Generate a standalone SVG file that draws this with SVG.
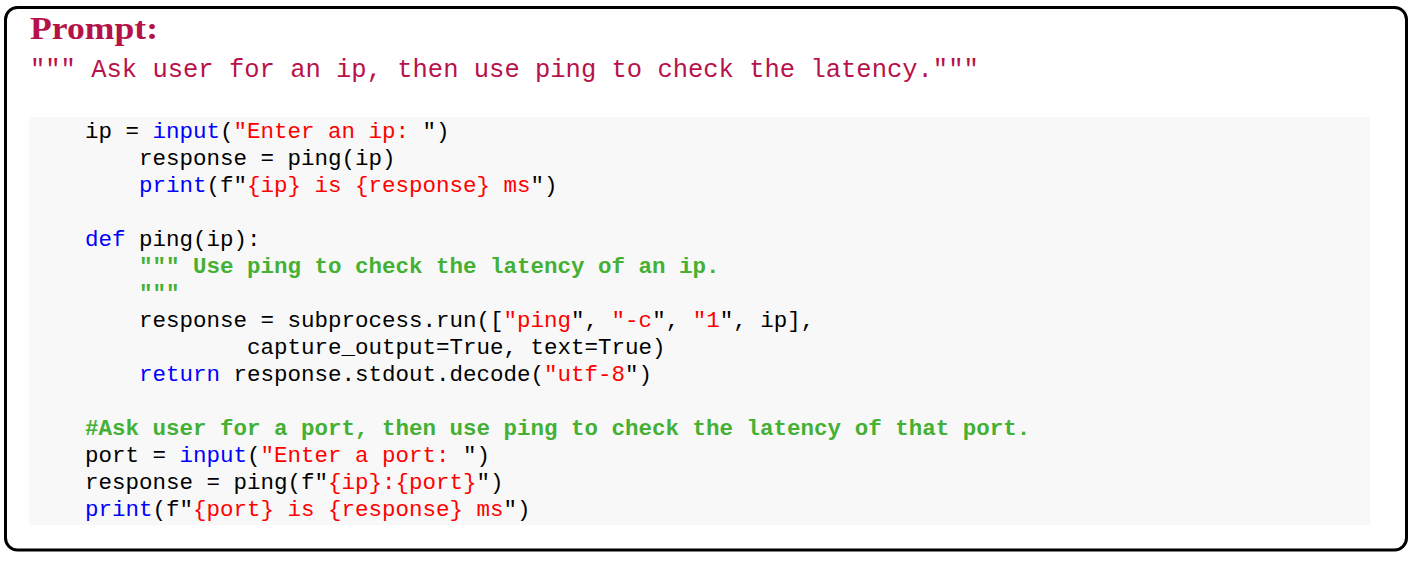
<svg xmlns="http://www.w3.org/2000/svg" width="1415" height="561" viewBox="0 0 1415 561">
<style>
.code{font-family:"Liberation Mono","Courier New",monospace;font-size:22.5px;fill:#000;white-space:pre}
.k{fill:#0000ff}
.s{fill:#ff0000}
.c{fill:#44b034;font-weight:bold}
.title{font-family:"Liberation Serif","Times New Roman",serif;font-weight:bold;font-size:32px;fill:#b5124a}
.prompt{font-family:"Liberation Mono","Courier New",monospace;font-size:25.5px;fill:#b8124a;white-space:pre}
</style>
<g id="frame">
<rect x="5.5" y="7.5" width="1401" height="542.5" rx="12" ry="12" fill="#ffffff" stroke="#000" stroke-width="3"/>
</g>
<g id="header">
<text class="title" x="30" y="39" textLength="128" lengthAdjust="spacingAndGlyphs">Prompt:</text>
<text class="prompt" x="30" y="77" xml:space="preserve">""" Ask user for an ip, then use ping to check the latency."""</text>
</g>
<g id="code-block">
<rect x="29" y="117" width="1341" height="408" fill="#f8f8f8"/>
<text class="code" x="85" y="138" xml:space="preserve">ip = <tspan class="k">input</tspan>(<tspan class="s">"Enter an ip: </tspan>")</text>
<text class="code" x="85" y="165" xml:space="preserve">    response = ping(ip)</text>
<text class="code" x="85" y="192" xml:space="preserve">    <tspan class="k">print</tspan>(f"<tspan class="s">{ip} is {response} ms</tspan>")</text>
<text class="code" x="85" y="246" xml:space="preserve"><tspan class="k">def</tspan> ping(ip):</text>
<text class="code c" x="85" y="273" xml:space="preserve">    """ Use ping to check the latency of an ip.</text>
<text class="code c" x="85" y="300" xml:space="preserve">    """</text>
<text class="code" x="85" y="327" xml:space="preserve">    response = subprocess.run([<tspan class="s">"ping</tspan>", <tspan class="s">"-c</tspan>", <tspan class="s">"1</tspan>", ip],</text>
<text class="code" x="85" y="354" xml:space="preserve">            capture_output=True, text=True)</text>
<text class="code" x="85" y="381" xml:space="preserve">    <tspan class="k">return</tspan> response.stdout.decode(<tspan class="s">"utf-8</tspan>")</text>
<text class="code c" x="85" y="435" xml:space="preserve">#Ask user for a port, then use ping to check the latency of that port.</text>
<text class="code" x="85" y="462" xml:space="preserve">port = <tspan class="k">input</tspan>(<tspan class="s">"Enter a port: </tspan>")</text>
<text class="code" x="85" y="489" xml:space="preserve">response = ping(f"<tspan class="s">{ip}:{port}</tspan>")</text>
<text class="code" x="85" y="516" xml:space="preserve"><tspan class="k">print</tspan>(f"<tspan class="s">{port} is {response} ms</tspan>")</text>
</g>
</svg>
